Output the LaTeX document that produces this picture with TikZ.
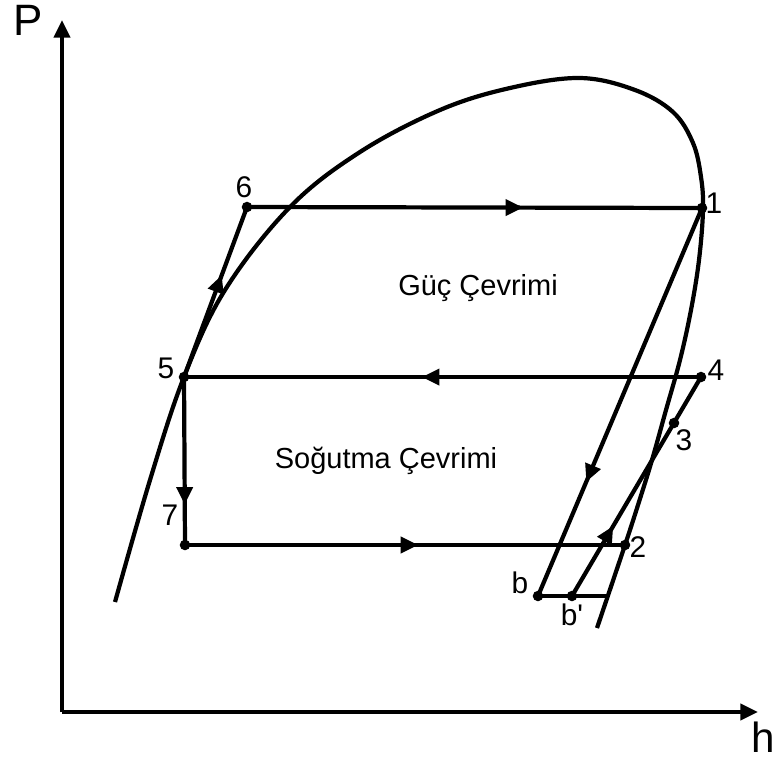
\documentclass[tikz,border=0pt]{standalone}
\usepackage{fontspec}
\setmainfont{Liberation Sans}
\usetikzlibrary{arrows.meta,decorations.markings}

\tikzset{
  cycleline/.style={line width=2.4pt},
  dot/.style={circle,fill,inner sep=0pt,minimum size=6pt},
  midarrow/.style={postaction={decorate,decoration={markings,
      mark=at position #1 with {\arrow{Triangle[length=10pt,width=9pt]}}}}},
  num/.style={font=\fontsize{17}{19}\selectfont},
}

\begin{document}
\begin{tikzpicture}[x=0.02cm, y=-0.02cm]
    \useasboundingbox (0,0) rectangle (775,762);

    % Define the points of the cycles
    \coordinate (O) at (62,712);
    \coordinate (Ptop) at (62,20);
    \coordinate (Hend) at (758,712);
    \coordinate (p1) at (702,208);
    \coordinate (p2) at (625,545);
    \coordinate (p3) at (674,423);
    \coordinate (p4) at (701,377);
    \coordinate (p5) at (184,377);
    \coordinate (p6) at (247,207);
    \coordinate (p7) at (185,545);
    \coordinate (b) at (538,596);
    \coordinate (bp) at (572,596);
    \coordinate (bsat) at (607,596);

    % Draw the axes
    \draw[cycleline, -{Triangle[length=10pt,width=9pt]}] (O) -- (Ptop);
    \draw[cycleline, -{Triangle[length=10pt,width=9pt]}] (O) -- (Hend);
    \node[font=\fontsize{25}{28}\selectfont] (Plab) at (28,20) {P};
    \node[font=\fontsize{24}{28}\selectfont] (hlab) at (763,737) {h};

    % Draw the saturation dome
    \draw[cycleline] plot[smooth, tension=0.6] coordinates {
      (115,602) (150,480) (184,377) (225,290) (290,207) (360,152)
      (440,110) (510,88) (580,78) (635,90) (673,112) (693,143)
      (701,177) (703,210) (699,260) (691,310) (680,360) (666,410)
      (652,460) (638,505) (625,545) (597,628)};

    % Draw the power cycle
    \draw[cycleline, midarrow=0.607] (p6) -- (p1);
    \draw[cycleline, midarrow=0.706] (p1) -- (b);
    \draw[cycleline] (b) -- (bsat);
    \draw[cycleline, midarrow=0.6] (p5) -- (p6);

    % Draw the refrigeration cycle
    \draw[cycleline, midarrow=0.32] (bp) -- (p4);
    \draw[cycleline, midarrow=0.54] (p4) -- (p5);
    \draw[cycleline, midarrow=0.76] (p5) -- (p7);
    \draw[cycleline, midarrow=0.53] (p7) -- (p2);

    % Draw the state points
    \foreach \p in {p1,p2,p3,p4,p5,p6,p7,b,bp}
      \node[dot] at (\p) {};

    % Place the labels
    \node[num] (l1) at (714,203) {1};
    \node[num] (l2) at (638,547) {2};
    \node[num] (l3) at (684,440) {3};
    \node[num] (l4) at (716,370) {4};
    \node[num] (l5) at (166,368) {5};
    \node[num] (l6) at (244,187) {6};
    \node[num] (l7) at (170,515) {7};
    \node[num] (lb) at (520,583) {b};
    \node[num] (lbp) at (572,615) {b\textquotesingle};

    \node[font=\fontsize{16.5}{19}\selectfont] (guc) at (478,288) {Güç Çevrimi};
    \node[font=\fontsize{16.5}{19}\selectfont] (sogutma) at (386,461) {Soğutma Çevrimi};

\end{tikzpicture}
\end{document}
